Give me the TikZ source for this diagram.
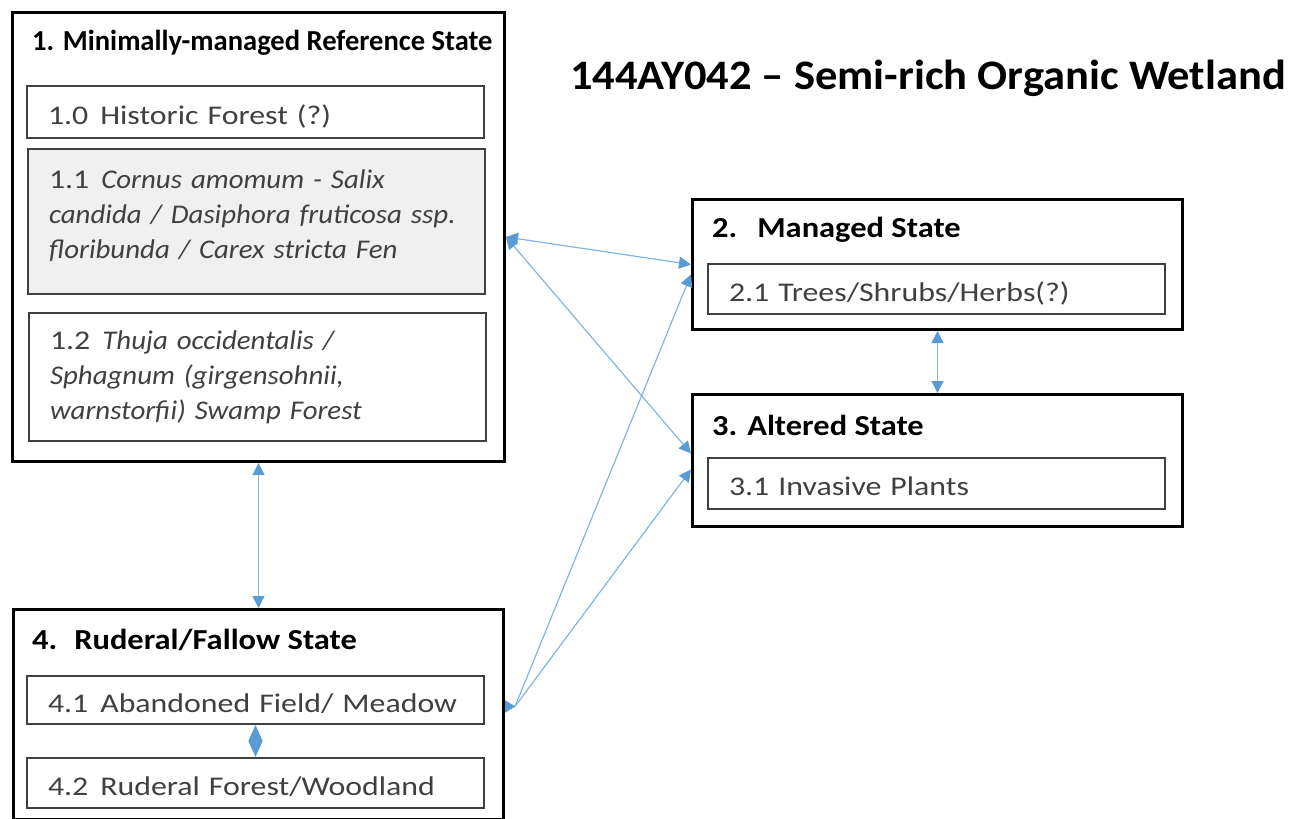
\documentclass[tikz,border=0pt]{standalone}
\usepackage{fontspec}
\setmainfont{Carlito}
\newfontfamily\phasefont[FakeStretch=1.18]{Carlito}
\newfontfamily\speciesfont[FakeStretch=1.07]{Carlito}
\newfontfamily\titlefont[FakeStretch=1.12]{Carlito}
\newfontfamily\refstatefont[FakeStretch=0.985]{Carlito}
\newfontfamily\headfont[FakeStretch=1.06]{Carlito}
\usetikzlibrary{arrows.meta}

\definecolor{linkblue}{RGB}{91,155,213}
\definecolor{boxgray}{RGB}{240,240,240}
\definecolor{textgray}{RGB}{64,64,64}

\newcommand{\taxon}[1]{{\speciesfont\itshape #1}}

\tikzset{
    statebox/.style={draw=black, line width=3pt, anchor=north west, inner sep=0pt, minimum width=490pt},
    phasebox/.style={draw=textgray, line width=2pt, anchor=north west, inner xsep=21pt, inner ysep=0pt,
        text width=415pt, align=left, text=textgray, font=\phasefont\fontsize{27}{35}\selectfont},
    oneline/.style={text height=28pt, text depth=4pt},
    statetitle/.style={anchor=west, inner sep=0pt, text=black, font=\titlefont\bfseries\fontsize{29}{35}\selectfont},
    link/.style={draw=linkblue!75, line width=1.2pt, >={Triangle[length=12pt,width=12pt,color=linkblue]}},
}

\begin{document}
\begin{tikzpicture}[x=1pt, y=-1pt]
    \useasboundingbox (0,0) rectangle (1302,819);

    % heading
    \node[font=\headfont\bfseries\fontsize{42}{50}\selectfont] (title) at (928,78) {144AY042 \textendash{} Semi-rich Organic Wetland};

    % 1. reference state
    \node[statebox, minimum width=492pt, minimum height=449pt] (s1) at (11,11) {};
    \node[statetitle, font=\refstatefont\bfseries\fontsize{29}{35}\selectfont] (t1) at (32,43) {1. Minimally-managed Reference State};
    \node[phasebox, oneline, minimum height=52pt] (s10) at (26,85) {1.0\hspace{12pt}Historic Forest (?)};
    \node[phasebox, minimum height=145pt, fill=boxgray] (s11) at (27,148)
        {1.1\hspace{12pt}\taxon{Cornus amomum - Salix}\\ \taxon{candida / Dasiphora fruticosa ssp.}\\ \taxon{floribunda / Carex stricta Fen}\\[-20pt]\mbox{}};
    \node[phasebox, minimum height=128pt] (s12) at (28,312)
        {1.2\hspace{12pt}\taxon{Thuja occidentalis /}\\ \taxon{Sphagnum (girgensohnii,}\\ \taxon{warnstorfii) Swamp Forest}};

    % 2. managed state
    \node[statebox, minimum height=130pt] (s2) at (691,198) {};
    \node[statetitle] (t2) at (712,230) {2.\hspace{20pt}Managed State};
    \node[phasebox, oneline, minimum height=50pt] (s21) at (707,263) {2.1 Trees/Shrubs/Herbs(?)};

    % 3. altered state
    \node[statebox, minimum height=132pt] (s3) at (691,393) {};
    \node[statetitle] (t3) at (712,425) {3.\hspace{10pt}Altered State};
    \node[phasebox, oneline, minimum height=51pt] (s31) at (707,457) {3.1 Invasive Plants};

    % 4. ruderal state
    \node[statebox, minimum height=210pt] (s4) at (12,608) {};
    \node[statetitle] (t4) at (32,640) {4.\hspace{17pt}Ruderal/Fallow State};
    \node[phasebox, oneline, minimum height=48pt] (s41) at (26,675) {4.1\hspace{12pt}Abandoned Field/ Meadow};
    \node[phasebox, oneline, minimum height=50pt] (s42) at (26,757) {4.2\hspace{12pt}Ruderal Forest/Woodland};

    % transitions
    \draw[link, <->] (s1.east) -- (s2.west);
    \draw[link, <->] (s1.east) -- ([yshift=7pt]s3.west);
    \draw[link, <->] (s2.south) -- (s3.north);
    \draw[link, <->] (s1.south) -- (s4.north);
    \draw[link, <->, >={Triangle[length=16pt,width=14pt,color=linkblue]}] (s41.south) -- (s42.north);
    \draw[link, {Triangle[reversed,length=10pt,width=12pt,color=linkblue]}->] ([yshift=8pt]s4.east) -- ++(10,0) -- ([yshift=-10pt]s2.west);
    \draw[link, {Triangle[reversed,length=10pt,width=12pt,color=linkblue]}->] ([yshift=8pt]s4.east) -- ++(10,0) -- ([yshift=-9pt]s3.west);
\end{tikzpicture}
\end{document}
